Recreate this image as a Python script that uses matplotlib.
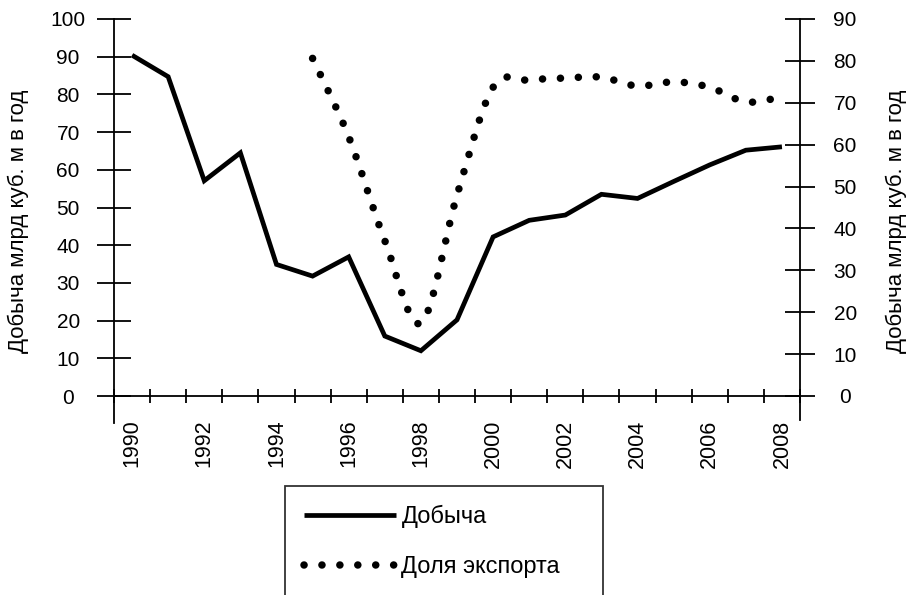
import numpy as np
import matplotlib
matplotlib.use("Agg")
import matplotlib.pyplot as plt
from matplotlib.path import Path
from matplotlib.patches import PathPatch
from matplotlib.lines import Line2D
from matplotlib.ticker import FixedLocator, NullFormatter

plt.rcParams['font.family'] = ['Liberation Sans', 'DejaVu Sans']

years = list(range(1990, 2009))
production = [90.4, 84.7, 57.1, 64.5, 34.9, 31.8, 36.9, 15.9, 12.0, 20.2,
              42.2, 46.6, 48.0, 53.5, 52.4, 56.9, 61.3, 65.2, 66.1]
export_years = list(range(1995, 2009))
export_share = [80.6, 61.9, 37.1, 17.4, 47.9, 73.7, 75.4, 75.9, 76.1, 74.0,
                75.0, 73.7, 70.2, 71.4]
label_years = [1990, 1992, 1994, 1996, 1998, 2000, 2002, 2004, 2006, 2008]
left_ticks = list(range(0, 101, 10))
right_ticks = list(range(0, 91, 10))
ylabel = "Добыча млрд куб. м в год"
legend_labels = ["Добыча", "Доля экспорта"]

W, H = 907, 595
fig = plt.figure(figsize=(W / 100, H / 100), dpi=100)
x0, x1, y0, y1 = 114, 800, 19, 396
ax = fig.add_axes([x0 / W, 1 - y1 / H, (x1 - x0) / W, (y1 - y0) / H])
ax2 = ax.twinx()

idx = {y: i for i, y in enumerate(years)}
xp = [idx[y] for y in years]
ax.plot(xp, production, color='black', lw=3.4, solid_joinstyle='miter',
        solid_capstyle='butt')

# smoothed dotted export curve (Bezier through the data points)
xe = np.array([idx[y] for y in export_years], dtype=float)
pts = np.column_stack([xe, np.array(export_share, dtype=float)])
n = len(pts)
verts = [pts[0]]
codes = [Path.MOVETO]
for i in range(n - 1):
    pp = pts[i - 1] if i > 0 else pts[i]
    pn = pts[i + 2] if i + 2 < n else pts[i + 1]
    c1 = pts[i] + (pts[i + 1] - pp) / 6.0
    c2 = pts[i + 1] - (pn - pts[i]) / 6.0
    verts += [c1, c2, pts[i + 1]]
    codes += [Path.CURVE4] * 3
dot_lw = 5.4
dot_ls = (0, (0.01, 2.38))
patch = PathPatch(Path(verts, codes), fill=False, edgecolor='black', lw=dot_lw,
                  linestyle=dot_ls, capstyle='round')
ax2.add_patch(patch)

ax.set_xlim(-0.5, len(years) - 0.5)
ax.set_ylim(0, 100)
ax2.set_ylim(0, 90)

# x axis
ax.xaxis.set_major_locator(FixedLocator(np.arange(-0.5, len(years), 1.0)))
ax.xaxis.set_major_formatter(NullFormatter())
ax.xaxis.set_minor_locator(FixedLocator([idx[y] for y in label_years]))
ax.set_xticklabels([str(y) for y in label_years], minor=True, rotation=90,
                   fontsize=15.5)
ax.tick_params(axis='x', which='major', direction='inout', length=10, width=1.3)
ax.tick_params(axis='x', which='minor', length=0, pad=17)

ax.set_yticks(left_ticks)
ax.set_yticklabels([str(v) for v in left_ticks], fontsize=15, ha='center')
ax.tick_params(axis='y', direction='inout', length=24, width=1.3, pad=21)
ax2.set_yticks(right_ticks)
ax2.set_yticklabels([str(v) for v in right_ticks], fontsize=15, ha='center')
ax2.tick_params(axis='y', direction='inout', length=22, width=1.3, pad=21.5)

for a in (ax, ax2):
    a.spines['top'].set_visible(False)
    for s in a.spines.values():
        s.set_linewidth(1.3)
ax.spines['right'].set_visible(False)
ax2.spines['left'].set_visible(False)
ax2.spines['bottom'].set_visible(False)
ax.spines['left'].set_bounds(-7.2, 100)
ax2.spines['right'].set_bounds(-5.8, 90)

fig.text(18 / W, 1 - 221 / H, ylabel, rotation=90, ha='center', va='center',
         fontsize=16)
fig.text(896 / W, 1 - 221 / H, ylabel, rotation=90, ha='center', va='center',
         fontsize=16)

handles = [Line2D([], [], color='black', lw=3.4, solid_capstyle='butt'),
           Line2D([], [], color='black', lw=dot_lw, linestyle=dot_ls,
                  dash_capstyle='round')]
leg = fig.legend(handles, legend_labels, loc='upper left',
                 bbox_to_anchor=(285 / W, 1 - 486 / H, (603 - 285) / W, 0),
                 mode='expand', fontsize=17, frameon=True, fancybox=False,
                 edgecolor='black', handlelength=3.88, handletextpad=0.25,
                 labelspacing=1.2, borderpad=0.8, borderaxespad=0)
leg.get_frame().set_linewidth(1.3)

fig.savefig("out.png", dpi=100)
